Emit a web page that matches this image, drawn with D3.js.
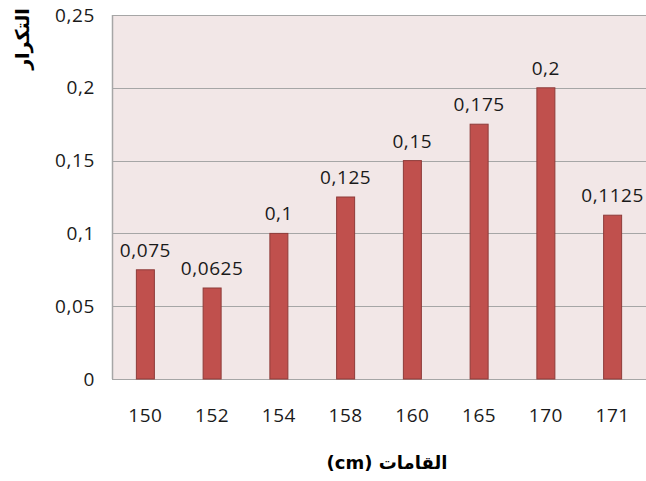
<!DOCTYPE html>
<html>
<head>
<meta charset="utf-8">
<script src="https://cdn.jsdelivr.net/npm/d3@7"></script>
<style>
  html, body { margin: 0; padding: 0; background: #fff; }
  svg { display: block; }
</style>
</head>
<body>
<svg id="chart" width="646" height="481"></svg>
<script>
// Heights (cm) and their relative frequencies
const heights = ["150", "152", "154", "158", "160", "165", "170", "171"];
const frequencies = [0.075, 0.0625, 0.1, 0.125, 0.15, 0.175, 0.2, 0.1125];
const yTicks = [0, 0.05, 0.1, 0.15, 0.2, 0.25];
const yTitle = "التكرار";
const xTitle = "القامات (cm)";

const svg = d3.select("#chart");
const margin = { left: 112, right: 0, top: 15, bottom: 102 };
const W = 646, H = 481;
const fmt = v => String(v).replace(".", ",");
const font = "'Open Sans', 'Noto Sans', sans-serif";
const fs = 19;

const x = d3.scaleBand().domain(heights).range([margin.left, W - margin.right]);
const y = d3.scaleLinear().domain([0, 0.25]).range([H - margin.bottom, margin.top]);

const styleText = sel => sel
  .attr("font-family", font).attr("font-size", fs)
  .attr("letter-spacing", 0.6).attr("fill", "#1a1a1a");

// plot background
svg.append("rect")
  .attr("x", margin.left).attr("y", margin.top)
  .attr("width", W - margin.right - margin.left)
  .attr("height", y(0) - margin.top)
  .attr("fill", "#f2e7e7");

// gridlines
svg.append("g").selectAll("line").data(yTicks).join("line")
  .attr("x1", margin.left).attr("x2", W - margin.right)
  .attr("y1", d => Math.round(y(d)) + 0.5).attr("y2", d => Math.round(y(d)) + 0.5)
  .attr("stroke", "#a6a6a6").attr("stroke-width", 1);

// left border
svg.append("line")
  .attr("x1", margin.left + 0.5).attr("x2", margin.left + 0.5)
  .attr("y1", margin.top).attr("y2", y(0))
  .attr("stroke", "#a6a6a6").attr("stroke-width", 1.5);

// y axis labels
const yAxis = d3.axisLeft(y).tickValues(yTicks).tickFormat(fmt).tickSize(0).tickPadding(17);
svg.append("g")
  .attr("transform", `translate(${margin.left},0)`)
  .call(yAxis)
  .call(g => g.select(".domain").remove())
  .call(g => g.selectAll("text").call(styleText));

// x axis labels
const xAxis = d3.axisBottom(x).tickSize(0).tickPadding(30);
svg.append("g")
  .attr("transform", `translate(0,${y(0)})`)
  .call(xAxis)
  .call(g => g.select(".domain").remove())
  .call(g => g.selectAll("text").call(styleText));

// bars
const barW = 18;
svg.append("g").selectAll("rect").data(heights).join("rect")
  .attr("x", d => x(d) + x.bandwidth() / 2 - barW / 2)
  .attr("y", (d, i) => y(frequencies[i]))
  .attr("width", barW)
  .attr("height", (d, i) => y(0) - y(frequencies[i]))
  .attr("fill", "#c0504d")
  .attr("stroke", "#8e3b39").attr("stroke-width", 1);

// value labels
svg.append("g").selectAll("text").data(heights).join("text")
  .attr("x", d => x(d) + x.bandwidth() / 2)
  .attr("y", (d, i) => y(frequencies[i]) - 13)
  .attr("text-anchor", "middle")
  .call(styleText)
  .text((d, i) => fmt(frequencies[i]));

// axis titles
svg.append("text")
  .attr("transform", "translate(29,39) rotate(-90)")
  .attr("text-anchor", "middle")
  .attr("font-family", "'DejaVu Sans', sans-serif").attr("font-weight", "bold")
  .attr("font-size", 19).attr("fill", "#000")
  .text(yTitle);

svg.append("text")
  .attr("x", 387).attr("y", 469)
  .attr("text-anchor", "middle")
  .attr("direction", "rtl")
  .attr("font-family", "'DejaVu Sans', sans-serif").attr("font-weight", "bold")
  .attr("font-size", 18).attr("fill", "#000")
  .text(xTitle);
</script>
</body>
</html>
